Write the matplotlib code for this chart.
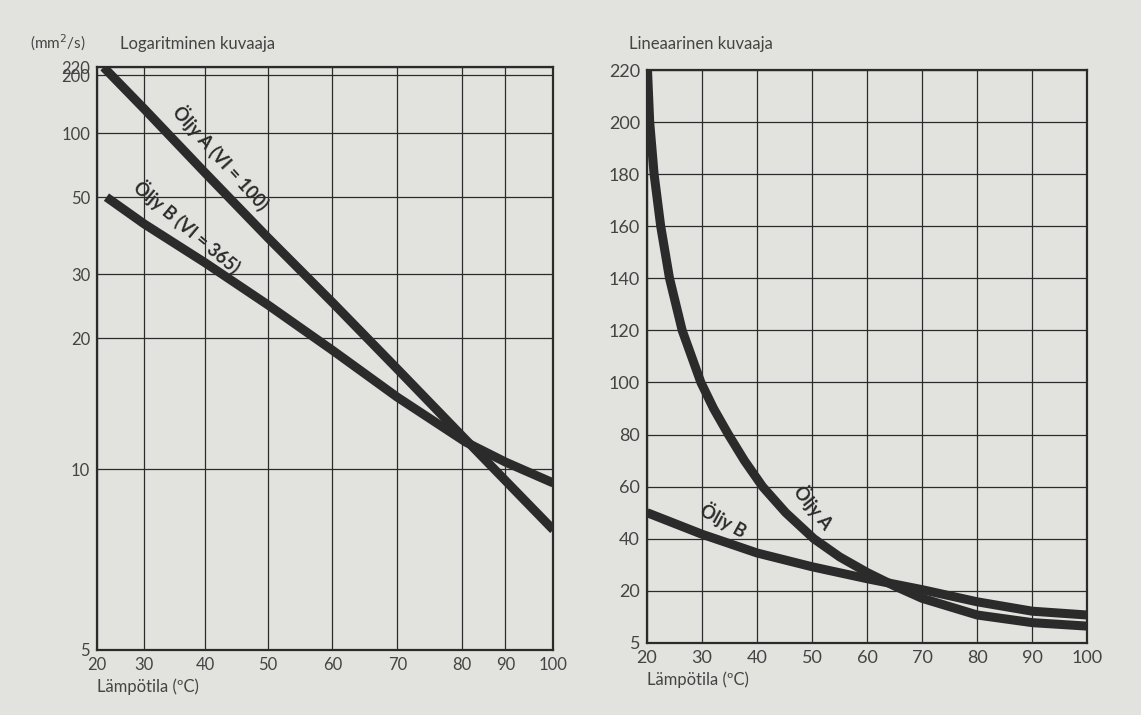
import numpy as np
import matplotlib
matplotlib.use("Agg")
import matplotlib.pyplot as plt

plt.rcParams['font.family'] = ['Lato', 'DejaVu Sans']

# --- data ---
temp_ticks = [20, 30, 40, 50, 60, 70, 80, 90, 100]
log_visc_ticks = [5, 10, 20, 30, 50, 100, 200, 220]
lin_visc_ticks = [5, 20, 40, 60, 80, 100, 120, 140, 160, 180, 200, 220]

# log chart
log_a_temp = [21.4, 30, 40, 50, 60, 70, 80, 90, 100]
log_a_visc = [220, 132, 64.2, 37.8, 24.9, 16.7, 11.74, 9.49, 7.7]
log_b_temp = [22, 30, 40, 50, 60, 70, 80.9, 90, 100]
log_b_visc = [50, 41.5, 32.2, 24.5, 18.6, 14.3, 11.37, 10.33, 9.39]

# linear chart
lin_a_temp = [20.1, 20.5, 21.3, 22.5, 24.1, 26.4, 29.8, 32.1, 34.8, 37.7, 41.0,
              45.2, 50.3, 55, 60, 65, 70, 80, 90, 100]
lin_a_visc = [220, 200, 180, 160, 140, 120, 100, 90, 80, 70, 60,
              50, 40, 33, 27, 21.8, 17.8, 13.0, 10.8, 9.8]
lin_b_temp = [20, 30, 40, 50, 60, 70, 80, 90, 100]
lin_b_visc = [50, 41.7, 34.5, 29.2, 24.6, 20.4, 16.8, 14.1, 13.0]

# --- scales of the printed charts (grid line places, 0..1) ---
log_x_pos = [0, 0.1036, 0.237, 0.375, 0.516, 0.658, 0.799, 0.895, 1.0]
log_y_pos = np.array([0, 181, 312, 376, 453, 517, 575, 583]) / 583.0


def loglog(v):
    v = np.clip(np.asarray(v, dtype=float), 1.05, None)
    return np.log10(np.log10(v))


ll_ticks = loglog(log_visc_ticks)


def x_fwd(t):
    return np.interp(t, temp_ticks, log_x_pos)


def x_inv(p):
    return np.interp(p, log_x_pos, temp_ticks)


def y_fwd(v):
    return np.interp(loglog(v), ll_ticks, log_y_pos)


def y_inv(p):
    return 10 ** (10 ** np.interp(p, log_y_pos, ll_ticks))


def lin_fwd(v):
    return np.interp(v, [5, 20, 220], [0, 20, 220])


def lin_inv(p):
    return np.interp(p, [0, 20, 220], [5, 20, 220])


bg = '#e2e2de'
ink = '#2b2b2b'
txt = '#444444'
line_kw = dict(color=ink, linewidth=6.5, solid_capstyle='butt', solid_joinstyle='round')
fig = plt.figure(figsize=(11.41, 7.15), dpi=100, facecolor=bg)

# ---------------- left: logarithmic ----------------
ax1 = fig.add_axes([0.085, 0.091, 0.400, 0.815])
ax1.set_facecolor(bg)
ax1.set_xscale('function', functions=(x_fwd, x_inv))
ax1.set_yscale('function', functions=(y_fwd, y_inv))
ax1.set_xlim(20, 100)
ax1.set_ylim(5, 220)
ax1.set_xticks(temp_ticks)
ax1.set_xticklabels([str(t) for t in temp_ticks])
ax1.set_yticks(log_visc_ticks)
ax1.set_yticklabels([str(v) for v in log_visc_ticks])
ax1.yaxis.set_minor_locator(matplotlib.ticker.NullLocator())
ax1.xaxis.set_minor_locator(matplotlib.ticker.NullLocator())
ax1.grid(True, color=ink, linewidth=0.9)
ax1.plot(log_a_temp, log_a_visc, **line_kw)
ax1.plot(log_b_temp, log_b_visc, **line_kw)
ax1.text(0.272, 0.846, 'Öljy A (VI = 100)', transform=ax1.transAxes, rotation=-48,
         ha='center', va='center', fontsize=13, fontweight='bold', color=ink)
ax1.text(0.198, 0.727, 'Öljy B (VI = 365)', transform=ax1.transAxes, rotation=-40,
         ha='center', va='center', fontsize=13, fontweight='bold', color=ink)
fig.text(0.026, 0.932, '(mm$^2$/s)', fontsize=11, color=txt)
fig.text(0.105, 0.932, 'Logaritminen kuvaaja', fontsize=12, color=txt)
ax1.set_xlabel('Lämpötila (ºC)', fontsize=12, color=txt, loc='left', labelpad=4)

# ---------------- right: linear ----------------
ax2 = fig.add_axes([0.567, 0.101, 0.386, 0.801])
ax2.set_facecolor(bg)
ax2.set_yscale('function', functions=(lin_fwd, lin_inv))
ax2.set_xlim(20, 100)
ax2.set_ylim(5, 220)
ax2.set_xticks(temp_ticks)
ax2.set_yticks(lin_visc_ticks)
ax2.set_yticklabels([str(v) for v in lin_visc_ticks])
ax2.yaxis.set_minor_locator(matplotlib.ticker.NullLocator())
ax2.grid(True, color=ink, linewidth=0.9)
ax2.plot(lin_a_temp, lin_a_visc, **line_kw)
ax2.plot(lin_b_temp, lin_b_visc, **line_kw)
ax2.text(0.175, 0.215, 'Öljy B', transform=ax2.transAxes, rotation=-29,
         ha='center', va='center', fontsize=13, fontweight='bold', color=ink)
ax2.text(0.380, 0.238, 'Öljy A', transform=ax2.transAxes, rotation=-51,
         ha='center', va='center', fontsize=13, fontweight='bold', color=ink)
fig.text(0.551, 0.932, 'Lineaarinen kuvaaja', fontsize=12, color=txt)
ax2.set_xlabel('Lämpötila (ºC)', fontsize=12, color=txt, loc='left', labelpad=4)

for ax, fs in ((ax1, 12), (ax2, 13)):
    ax.tick_params(length=0, labelsize=fs, labelcolor=txt, pad=5)
    for sp in ax.spines.values():
        sp.set_color(ink)
        sp.set_linewidth(1.6)
    ax.set_axisbelow(True)

fig.savefig('out.png', dpi=100, facecolor=bg)
